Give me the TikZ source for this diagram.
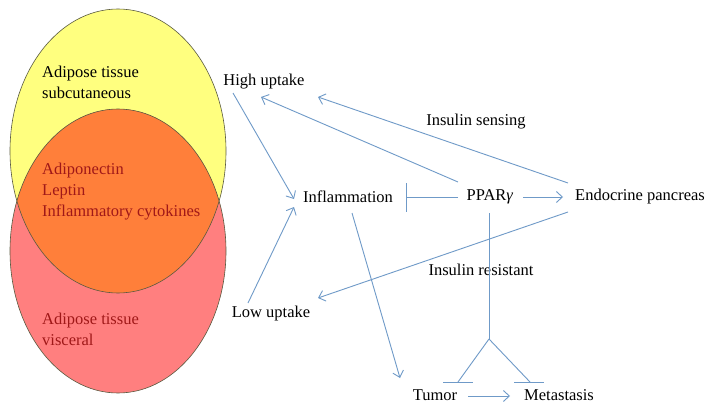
\documentclass[tikz,border=0pt]{standalone}
\usepackage{fontspec}
\setmainfont{Liberation Serif}
\usetikzlibrary{arrows.meta}
\definecolor{ylw}{HTML}{FFFF7F}
\definecolor{rdd}{HTML}{FF7F7F}
\definecolor{org}{HTML}{FF7F3A}
\definecolor{txtred}{HTML}{A01818}
\definecolor{edge}{HTML}{5A5A40}
\definecolor{lnblue}{HTML}{6F9AC8}
\begin{document}
\begin{tikzpicture}[x=1pt,y=-1pt,
  lbl/.style={font=\fontsize{16.5}{21}\selectfont, inner sep=0pt},
  conn/.style={draw=lnblue, line width=0.9pt},
  arr/.style={conn, -{Straight Barb[length=6pt,width=11pt,line width=0.9pt]}},
  inh/.style={conn, -{Bar[width=29pt,line width=0.9pt]}},
]
\useasboundingbox (0,0) rectangle (715,412);
\fill[white] (0,0) rectangle (715,412);
% ellipses
\fill[ylw] (118,151) ellipse [x radius=108, y radius=142];
\fill[rdd] (118,251) ellipse [x radius=108, y radius=142];
\begin{scope}
  \clip (118,151) ellipse [x radius=108, y radius=142];
  \fill[org] (118,251) ellipse [x radius=108, y radius=142];
\end{scope}
\draw[edge, line width=0.6pt] (118,151) ellipse [x radius=108, y radius=142];
\draw[edge, line width=0.6pt] (118,251) ellipse [x radius=108, y radius=142];
% left texts
\node[lbl, anchor=west, align=left] (sub) at (42,82) {Adipose tissue\\subcutaneous};
\node[lbl, anchor=west, align=left, text=txtred] (mid) at (42,192) {Adiponectin\\Leptin\\Inflammatory cytokines};
\node[lbl, anchor=west, align=left, text=txtred] (vis) at (42,329) {Adipose tissue\\visceral};
% right nodes
\node[lbl] (highup) at (264,82) {High uptake};
\node[lbl] (lowup) at (271,314) {Low uptake};
\node[lbl] (infl) at (348,197) {Inflammation};
\node[lbl] (ppar) at (490,197) {PPAR\textit{γ}};
\node[lbl, anchor=west] (endo) at (575,197) {Endocrine pancreas};
\node[lbl] (tumor) at (435,395) {Tumor};
\node[lbl] (meta) at (559,395) {Metastasis};
\node[lbl] (sens) at (476,122) {Insulin sensing};
\node[lbl] (resist) at (481,270) {Insulin resistant};
% connector endpoints
\coordinate (hu1) at (233,93);
\coordinate (in1) at (294,199);
\coordinate (lu1) at (248,303);
\coordinate (in2) at (294,207);
\coordinate (pp1) at (458,182);
\coordinate (hu2) at (261,97);
\coordinate (en1) at (568,183);
\coordinate (hu3) at (318,97);
\coordinate (en2) at (568,212);
\coordinate (lu2) at (318,298);
\coordinate (pp2) at (458,197);
\coordinate (in3) at (406,197);
\coordinate (pp3) at (523,197);
\coordinate (en3) at (563,197);
\coordinate (in4) at (352,213);
\coordinate (tu1) at (400,378);
\coordinate (pp4) at (489,213);
\coordinate (fork) at (489,339);
\coordinate (tu2) at (458,382);
\coordinate (me1) at (530,382);
\coordinate (tbl) at (443,382);
\coordinate (tbr) at (473,382);
\coordinate (mbl) at (514,382);
\coordinate (mbr) at (544,382);
\coordinate (tu3) at (468,396);
\coordinate (me2) at (510,396);
% connectors
\draw[arr] (hu1) -- (in1);
\draw[arr] (lu1) -- (in2);
\draw[arr] (pp1) -- (hu2);
\draw[arr] (en1) -- (hu3);
\draw[arr] (en2) -- (lu2);
\draw[inh] (pp2) -- (in3);
\draw[arr] (pp3) -- (en3);
\draw[arr] (in4) -- (tu1);
\draw[conn] (pp4) -- (fork);
\draw[conn] (fork) -- (tu2);
\draw[conn] (fork) -- (me1);
\draw[conn] (tbl) -- (tbr);
\draw[conn] (mbl) -- (mbr);
\draw[arr] (tu3) -- (me2);
\end{tikzpicture}
\end{document}
